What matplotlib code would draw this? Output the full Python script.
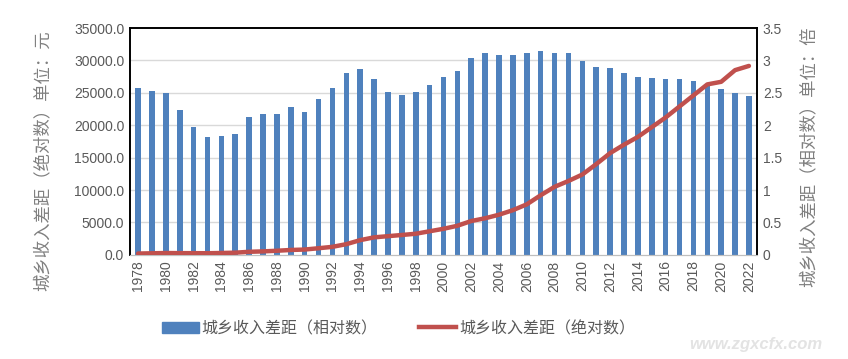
import numpy as np
import matplotlib
matplotlib.use("Agg")
import matplotlib.pyplot as plt
from matplotlib.ticker import FuncFormatter, MultipleLocator
from matplotlib.patches import Patch
from matplotlib.lines import Line2D

plt.rcParams['font.family'] = ['Liberation Sans', 'Noto Sans CJK SC', 'DejaVu Sans']

years = list(range(1978, 2023))

# 城乡收入差距（相对数），倍
ratio = [2.57, 2.53, 2.50, 2.24, 1.98, 1.82, 1.84, 1.86, 2.12, 2.17,
         2.17, 2.28, 2.20, 2.40, 2.58, 2.80, 2.86, 2.71, 2.51, 2.47,
         2.51, 2.62, 2.74, 2.84, 3.03, 3.12, 3.09, 3.08, 3.11, 3.14,
         3.11, 3.11, 2.99, 2.90, 2.88, 2.81, 2.75, 2.73, 2.72, 2.71,
         2.69, 2.64, 2.56, 2.50, 2.45]

# 城乡收入差距（绝对数），元
absolute = [210, 247, 286, 268, 265, 255, 293, 341, 477, 540,
            638, 759, 824, 1027, 1242, 1656, 2275, 2705, 2888, 3070,
            3263, 3644, 4027, 4493, 5227, 5650, 6200, 6900, 7800, 9200,
            10500, 11400, 12400, 14000, 15700, 17000, 18200, 19700, 21200, 22900,
            24600, 26300, 26700, 28500, 29150]

blue = '#4F81BD'
red = '#C0504D'
grey = '#595959'
cjk = ['Noto Sans CJK SC', 'DejaVu Sans']

fig = plt.figure(figsize=(8.48, 3.59), dpi=100)
ax = fig.add_axes([0.153, 0.290, 0.740, 0.632])
ax2 = ax.twinx()

ax2.bar(years, ratio, width=0.4, color=blue, zorder=2)
ax.plot(years, absolute, color=red, linewidth=3.2, solid_capstyle='round', zorder=3)

ax.set_zorder(ax2.get_zorder() + 1)
ax.patch.set_visible(False)

ax.set_xlim(1977.4, 2022.6)
ax.set_ylim(0, 35000)
ax2.set_ylim(0, 3.5)
ax.yaxis.set_major_locator(MultipleLocator(5000))
ax.yaxis.set_major_formatter(FuncFormatter(lambda v, p: f"{v:.1f}"))
ax2.yaxis.set_major_locator(MultipleLocator(0.5))
ax2.yaxis.set_major_formatter(FuncFormatter(lambda v, p: f"{v:g}"))

for y in range(5000, 35000, 5000):
    ax2.axhline(y / 10000, color='#D9D9D9', linewidth=1.0, zorder=1)

ax.set_xticks(years[::2])
ax.set_xticklabels([str(y) for y in years[::2]], rotation=90)

for a in (ax, ax2):
    a.tick_params(axis='both', length=0, labelsize=10, labelcolor=grey, pad=4)
    for s in ('top', 'left', 'right'):
        a.spines[s].set_color('black')
        a.spines[s].set_linewidth(1.2)
    a.spines['bottom'].set_color('#BFBFBF')

# axis titles, placed as in the original (a bit lower than the axes centre)
fig.text(0.050, 0.553, "城乡收入差距（绝对数）单位：元", rotation=90, ha='center', va='center',
         fontsize=12.5, color='#808080', family=cjk)
fig.text(0.954, 0.563, "城乡收入差距（相对数）单位：倍", rotation=90, ha='center', va='center',
         fontsize=12.5, color='#808080', family=cjk)

handles = [Patch(color=blue), Line2D([0], [0], color=red, linewidth=3.2)]
fig.legend(handles, ["城乡收入差距（相对数）", "城乡收入差距（绝对数）"],
           loc='center', bbox_to_anchor=(0.47, 0.085), ncol=2, frameon=False,
           prop={'family': cjk, 'size': 11.5},
           labelcolor=grey, columnspacing=2.6, handlelength=2.3, handletextpad=0.2)

fig.text(0.97, 0.02, "www.zgxcfx.com", ha='right', va='bottom', fontsize=12,
         color='#E3E3E3', style='italic', fontweight='bold')

fig.savefig("out.png", dpi=100, facecolor='white')
